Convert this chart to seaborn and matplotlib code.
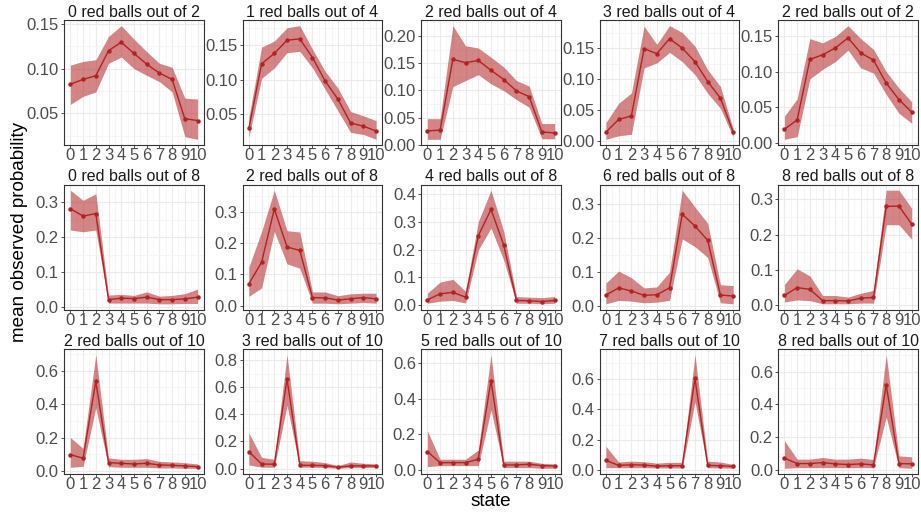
import numpy as np
import pandas as pd
import matplotlib
matplotlib.use("Agg")
import matplotlib.pyplot as plt
import seaborn as sns

states = list(range(11))

titles = ["0 red balls out of 2", "1 red balls out of 4", "2 red balls out of 4",
          "3 red balls out of 4", "2 red balls out of 2",
          "0 red balls out of 8", "2 red balls out of 8", "4 red balls out of 8",
          "6 red balls out of 8", "8 red balls out of 8",
          "2 red balls out of 10", "3 red balls out of 10", "5 red balls out of 10",
          "7 red balls out of 10", "8 red balls out of 10"]

means = [
    [0.0825, 0.088, 0.092, 0.120, 0.1295, 0.117, 0.105, 0.095, 0.088, 0.044, 0.042],
    [0.030, 0.123, 0.138, 0.157, 0.159, 0.132, 0.098, 0.072, 0.0375, 0.033, 0.026],
    [0.0254, 0.027, 0.157, 0.151, 0.155, 0.137, 0.120, 0.099, 0.0885, 0.0235, 0.0217],
    [0.0146, 0.035, 0.0406, 0.149, 0.141, 0.165, 0.150, 0.128, 0.096, 0.0695, 0.015],
    [0.0196, 0.0327, 0.117, 0.1234, 0.133, 0.147, 0.126, 0.116, 0.084, 0.061, 0.0435],
    [0.281, 0.260, 0.267, 0.021, 0.025, 0.024, 0.028, 0.021, 0.021, 0.023, 0.028],
    [0.070, 0.139, 0.310, 0.188, 0.177, 0.026, 0.025, 0.018, 0.022, 0.026, 0.022],
    [0.019, 0.041, 0.046, 0.029, 0.249, 0.344, 0.216, 0.017, 0.016, 0.013, 0.017],
    [0.032, 0.053, 0.044, 0.031, 0.033, 0.053, 0.271, 0.236, 0.194, 0.032, 0.029],
    [0.0276, 0.050, 0.045, 0.013, 0.013, 0.012, 0.020, 0.022, 0.280, 0.281, 0.230],
    [0.098, 0.076, 0.536, 0.050, 0.046, 0.042, 0.046, 0.036, 0.034, 0.030, 0.026],
    [0.124, 0.034, 0.032, 0.661, 0.024, 0.024, 0.022, 0.010, 0.020, 0.020, 0.020],
    [0.103, 0.041, 0.041, 0.041, 0.060, 0.502, 0.028, 0.028, 0.032, 0.024, 0.022],
    [0.066, 0.033, 0.037, 0.035, 0.028, 0.031, 0.031, 0.602, 0.033, 0.031, 0.026],
    [0.072, 0.039, 0.039, 0.045, 0.037, 0.033, 0.037, 0.031, 0.518, 0.039, 0.037],
]

lower = [
    [0.060, 0.069, 0.074, 0.106, 0.113, 0.100, 0.0925, 0.0855, 0.074, 0.024, 0.021],
    [0.017, 0.102, 0.117, 0.139, 0.141, 0.117, 0.086, 0.055, 0.024, 0.021, 0.014],
    [0.010, 0.010, 0.107, 0.118, 0.129, 0.112, 0.0994, 0.083, 0.069, 0.011, 0.011],
    [0.003, 0.0087, 0.011, 0.118, 0.126, 0.143, 0.128, 0.107, 0.077, 0.053, 0.007],
    [0.0056, 0.0093, 0.090, 0.103, 0.114, 0.130, 0.105, 0.098, 0.068, 0.042, 0.028],
    [0.220, 0.215, 0.220, 0.011, 0.011, 0.011, 0.011, 0.009, 0.009, 0.010, 0.010],
    [0.030, 0.057, 0.238, 0.134, 0.120, 0.008, 0.008, 0.006, 0.008, 0.010, 0.008],
    [0.007, 0.0145, 0.017, 0.008, 0.198, 0.277, 0.162, 0.007, 0.007, 0.005, 0.007],
    [0.006, 0.016, 0.014, 0.009, 0.011, 0.016, 0.198, 0.175, 0.143, 0.009, 0.006],
    [0.009, 0.015, 0.013, 0.004, 0.004, 0.004, 0.006, 0.006, 0.228, 0.228, 0.187],
    [0.022, 0.028, 0.377, 0.026, 0.022, 0.022, 0.022, 0.018, 0.018, 0.016, 0.016],
    [0.027, 0.010, 0.010, 0.466, 0.010, 0.010, 0.007, 0.002, 0.007, 0.007, 0.007],
    [0.019, 0.024, 0.024, 0.024, 0.024, 0.337, 0.013, 0.013, 0.013, 0.009, 0.009],
    [0.018, 0.018, 0.018, 0.018, 0.016, 0.016, 0.016, 0.449, 0.018, 0.016, 0.014],
    [0.010, 0.014, 0.014, 0.014, 0.014, 0.014, 0.014, 0.014, 0.323, 0.014, 0.010],
]

upper = [
    [0.104, 0.108, 0.110, 0.136, 0.148, 0.133, 0.119, 0.106, 0.1015, 0.067, 0.066],
    [0.046, 0.147, 0.156, 0.175, 0.178, 0.144, 0.112, 0.088, 0.054, 0.048, 0.041],
    [0.048, 0.048, 0.219, 0.182, 0.178, 0.161, 0.143, 0.118, 0.108, 0.039, 0.039],
    [0.030, 0.061, 0.0775, 0.185, 0.156, 0.186, 0.175, 0.153, 0.115, 0.088, 0.020],
    [0.038, 0.062, 0.146, 0.140, 0.149, 0.164, 0.146, 0.131, 0.100, 0.077, 0.058],
    [0.334, 0.305, 0.324, 0.034, 0.036, 0.033, 0.043, 0.031, 0.033, 0.038, 0.051],
    [0.124, 0.238, 0.370, 0.240, 0.236, 0.044, 0.044, 0.032, 0.038, 0.040, 0.040],
    [0.0435, 0.083, 0.093, 0.050, 0.300, 0.413, 0.265, 0.031, 0.029, 0.027, 0.031],
    [0.0675, 0.103, 0.083, 0.053, 0.056, 0.100, 0.342, 0.292, 0.244, 0.0625, 0.060],
    [0.059, 0.103, 0.083, 0.0276, 0.0276, 0.023, 0.034, 0.042, 0.326, 0.326, 0.275],
    [0.200, 0.135, 0.695, 0.078, 0.070, 0.070, 0.074, 0.058, 0.054, 0.050, 0.042],
    [0.263, 0.083, 0.068, 0.840, 0.058, 0.054, 0.044, 0.022, 0.049, 0.039, 0.034],
    [0.219, 0.060, 0.060, 0.060, 0.112, 0.647, 0.049, 0.049, 0.049, 0.037, 0.034],
    [0.158, 0.055, 0.061, 0.057, 0.048, 0.053, 0.053, 0.757, 0.061, 0.055, 0.040],
    [0.179, 0.066, 0.066, 0.076, 0.066, 0.066, 0.072, 0.064, 0.703, 0.086, 0.080],
]

ytick_sets = [
    [0.05, 0.10, 0.15], [0.05, 0.10, 0.15], [0.00, 0.05, 0.10, 0.15, 0.20],
    [0.00, 0.05, 0.10, 0.15], [0.00, 0.05, 0.10, 0.15],
    [0.0, 0.1, 0.2, 0.3], [0.0, 0.1, 0.2, 0.3], [0.0, 0.1, 0.2, 0.3, 0.4],
    [0.0, 0.1, 0.2, 0.3], [0.0, 0.1, 0.2, 0.3],
    [0.0, 0.2, 0.4, 0.6], [0.0, 0.2, 0.4, 0.6, 0.8], [0.0, 0.2, 0.4, 0.6],
    [0.0, 0.2, 0.4, 0.6], [0.0, 0.2, 0.4, 0.6],
]
ytick_decimals = [2] * 5 + [1] * 10

xlabel = "state"
ylabel = "mean observed probability"

rows = []
for t, m, lo, hi in zip(titles, means, lower, upper):
    for s, a, b, c in zip(states, m, lo, hi):
        rows.append({"panel": t, "state": s, "mean": a, "lower": b, "upper": c})
df = pd.DataFrame(rows)

sns.set_style("white")
plt.rcParams["font.family"] = ["Liberation Sans", "DejaVu Sans"]

RED = "#B22222"
GRID = "#EBEBEB"
BORDER = "#333333"
TICKCOL = "#4D4D4D"

fig, axes = plt.subplots(3, 5, figsize=(9.21, 5.13), dpi=100)
fig.subplots_adjust(left=64 / 921, right=918 / 921, top=1 - 20 / 513,
                    bottom=1 - 474 / 513, wspace=0.276, hspace=0.316)

for i, (ax, t) in enumerate(zip(axes.flat, titles)):
    sub = df[df["panel"] == t]
    ax.fill_between(sub["state"], sub["lower"], sub["upper"], color=RED,
                    alpha=0.55, linewidth=0, zorder=2)
    sns.lineplot(data=sub, x="state", y="mean", ax=ax, color=RED, linewidth=1.0,
                 marker="o", markersize=3.2, markeredgewidth=0, zorder=3)
    ymin = sub["lower"].min()
    ymax = sub["upper"].max()
    pad = (ymax - ymin) * 0.05
    ax.set_ylim(ymin - pad, ymax + pad)
    ax.set_xlim(-0.5, 10.5)

    yt = ytick_sets[i]
    ax.set_yticks(yt)
    ax.set_yticklabels([f"{v:.{ytick_decimals[i]}f}" for v in yt])
    step = yt[1] - yt[0]
    lo_l, hi_l = ax.get_ylim()
    minors = [yt[0] - step / 2 + k * step for k in range(len(yt) + 2)]
    minors = [v for v in minors if lo_l <= v <= hi_l]
    ax.set_yticks(minors, minor=True)
    ax.set_xticks(states)
    ax.set_xticklabels([str(s) for s in states])
    ax.set_xticks([s + 0.5 for s in states[:-1]], minor=True)

    ax.grid(which="major", color=GRID, linewidth=0.8, zorder=0)
    ax.grid(which="minor", color="#F3F3F3", linewidth=0.5, zorder=0)
    ax.set_axisbelow(True)
    ax.tick_params(which="major", direction="out", length=2.2, width=0.6,
                   color=BORDER, labelsize=12, labelcolor=TICKCOL, pad=1.5,
                   bottom=True, left=True)
    ax.tick_params(axis="x", which="major", pad=0.3)
    ax.tick_params(which="minor", length=0)
    for sp in ax.spines.values():
        sp.set_color(BORDER)
        sp.set_linewidth(0.8)
    ax.set_xlabel("")
    ax.set_ylabel("")
    ax.set_title(t, fontsize=11.5, color="#1A1A1A", pad=2.5)

fig.text(491 / 921, 1 - 506 / 513, xlabel, ha="center", va="baseline",
         fontsize=13.6, color="black")
fig.text(20 / 921, 1 - 232 / 513, ylabel, ha="center", va="center",
         rotation=90, fontsize=13.6, color="black")

fig.savefig("out.png", dpi=100, facecolor="white")
